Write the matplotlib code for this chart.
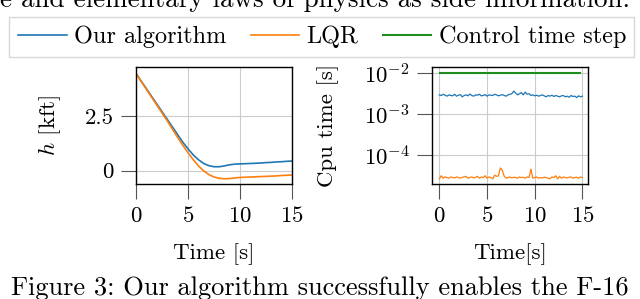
import numpy as np
import matplotlib
matplotlib.use("Agg")
import matplotlib.pyplot as plt

plt.rcParams["font.family"] = ["cmr10", "DejaVu Serif"]
plt.rcParams["mathtext.fontset"] = "cm"
plt.rcParams["axes.formatter.use_mathtext"] = True
plt.rcParams["font.size"] = 16.5

# altitude trajectories (kft), sampled every 0.5 s
t_alt = np.arange(0, 15.01, 0.5)
h_ours = [4.45, 4.1, 3.75, 3.4, 3.05, 2.7, 2.35, 2.0, 1.65, 1.3, 1.0, 0.72, 0.5,
          0.33, 0.23, 0.18, 0.18, 0.22, 0.27, 0.3, 0.31, 0.32, 0.33, 0.34, 0.35,
          0.37, 0.38, 0.4, 0.41, 0.43, 0.44]
h_lqr = [4.45, 4.08, 3.72, 3.36, 3.0, 2.64, 2.28, 1.9, 1.52, 1.16, 0.82, 0.5, 0.22,
         -0.01, -0.18, -0.29, -0.35, -0.37, -0.36, -0.33, -0.31, -0.3, -0.29, -0.28,
         -0.27, -0.26, -0.25, -0.24, -0.22, -0.21, -0.2]

# cpu time per step, sampled every 0.2 s
cpu_ours_ms = [2.9, 2.8, 3.0, 2.85, 2.7, 2.9, 2.8, 2.75, 3.0, 2.7, 2.85, 2.95, 2.6,
               2.8, 2.9, 2.75, 3.05, 2.8, 2.7, 2.9, 2.85, 3.0, 2.75, 2.8, 2.95, 2.7,
               2.9, 2.85, 2.8, 3.0, 2.9, 2.75, 2.85, 2.95, 2.8, 2.7, 2.9, 3.0, 3.1,
               3.6, 3.2, 2.9, 3.1, 3.3, 2.9, 3.4, 3.0, 3.1, 2.8, 2.9, 2.75, 2.85,
               2.7, 2.8, 2.9, 2.75, 2.6, 2.8, 2.7, 2.85, 2.65, 2.8, 2.7, 2.6, 2.75,
               2.8, 2.6, 2.7, 2.55, 2.8, 2.65, 2.7, 2.5, 2.75, 2.6, 2.7]
cpu_lqr_10us = [2.6, 3.1, 2.7, 2.9, 2.8, 2.7, 2.9, 2.8, 2.75, 2.9, 2.8, 2.7, 2.85,
                2.9, 3.0, 2.7, 2.8, 2.9, 2.75, 2.85, 3.0, 2.7, 2.9, 2.8, 3.1, 2.7,
                2.9, 2.8, 2.6, 3.2, 3.0, 3.1, 4.8, 4.2, 3.0, 2.7, 2.8, 2.9, 2.75,
                2.85, 2.8, 2.7, 2.9, 2.8, 2.85, 2.7, 2.9, 2.8, 4.5, 2.7, 2.8, 2.9,
                2.7, 2.8, 2.75, 2.85, 2.8, 2.7, 2.6, 2.9, 2.8, 3.1, 2.6, 3.0, 2.7,
                2.9, 2.8, 2.75, 2.85, 2.9, 2.7, 2.8, 2.85, 2.7, 2.9, 2.8]
control_step = 1e-2

BLUE = "#1f77b4"
ORANGE = "#ff7f0e"
GREEN = "#1e8f1e"

cpu_ours = np.array(cpu_ours_ms) * 1e-3
cpu_lqr = np.array(cpu_lqr_10us) * 1e-5
t_cpu = np.linspace(0, 15, len(cpu_ours))
t_cpu_lqr = np.linspace(0, 15, len(cpu_lqr))

fig = plt.figure(figsize=(6.4, 2.99), dpi=100)
ax1 = fig.add_axes([0.2125, 0.3846, 0.244, 0.391])
ax2 = fig.add_axes([0.675, 0.3846, 0.244, 0.391])

l1, = ax1.plot(t_alt, h_ours, color=BLUE, lw=1.2)
l2, = ax1.plot(t_alt, h_lqr, color=ORANGE, lw=1.2)
ax1.set_xlim(0, 15)
ax1.set_ylim(-0.61, 4.74)
ax1.set_xticks([0, 5, 10, 15])
ax1.set_yticks([0, 2.5])
ax1.set_yticklabels(["0", "2.5"])
ax1.set_ylabel("$h$ [kft]", labelpad=16)
ax1.set_xlabel("Time [s]", labelpad=12)

ax2.plot(t_cpu, cpu_ours, color=BLUE, lw=0.9)
ax2.plot(t_cpu_lqr, cpu_lqr, color=ORANGE, lw=0.9)
l3 = ax2.axhline(control_step, xmin=0.05, xmax=0.95, color=GREEN, lw=1.5)
ax2.set_yscale("log")
ax2.set_xlim(-0.77, 15.6)
ax2.set_ylim(10**-4.71, 10**-1.86)
ax2.set_xticks([0, 5, 10, 15])
ax2.set_yticks([1e-2, 1e-3, 1e-4])
ax2.minorticks_off()
ax2.set_ylabel("Cpu time [s]", labelpad=18)
ax2.set_xlabel("Time[s]", labelpad=12)

for ax in (ax1, ax2):
    ax.grid(True, color="#cccccc", lw=0.8)
    ax.set_axisbelow(True)
    ax.tick_params(length=11, width=0.8, color="#555555", pad=5)
    for s in ax.spines.values():
        s.set_linewidth(1.0)

fig.legend([l1, l2, l3], ["Our algorithm", "LQR", "Control time step"],
           loc="center", bbox_to_anchor=(0.503, 0.877), ncol=3, fontsize=17.5,
           fancybox=False, edgecolor="#cccccc", handlelength=2.0,
           columnspacing=1.0, handletextpad=0.3, borderpad=0.35)

fig.text(0.0, 1.04, "e and elementary laws of physics as side information.",
         fontsize=19.5, va="top", ha="left")
fig.text(0.5, -0.005, "Figure 3: Our algorithm successfully enables the F-16",
         fontsize=19, ha="center", va="bottom")

fig.savefig("out.png", dpi=100)
